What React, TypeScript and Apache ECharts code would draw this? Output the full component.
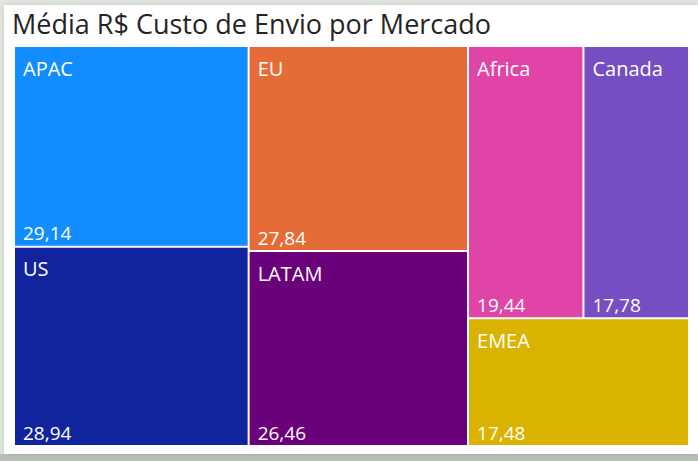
import React, { useEffect, useRef } from "react";
import * as echarts from "echarts";

const titleText = "Média R$ Custo de Envio por Mercado";
const markets = ["APAC", "US", "EU", "LATAM", "Africa", "Canada", "EMEA"];
const values = [29.14, 28.94, 27.84, 26.46, 19.44, 17.78, 17.48];
const colors = ["#118DFF", "#12239E", "#E66C37", "#6B007B", "#E044A7", "#744EC2", "#D9B300"];

const fmt = (v: number) => v.toFixed(2).replace(".", ",");

export default function App() {
  const ref = useRef<HTMLDivElement>(null);
  useEffect(() => {
    if (!ref.current) return;
    const chart = echarts.init(ref.current, undefined, { renderer: "svg" });
    const box = { left: 15, top: 47, width: 673, height: 398 };
    const fontFamily = "'Open Sans', sans-serif";
    const baseData = markets.map((m, i) => ({
      name: m,
      value: values[i],
      itemStyle: { color: colors[i] },
    }));
    const valueData = markets.map((m, i) => ({
      name: m,
      value: values[i],
      itemStyle: { color: "rgba(0,0,0,0)" },
    }));
    const common = {
      type: "treemap" as const,
      ...box,
      roam: false,
      nodeClick: false as const,
      breadcrumb: { show: false },
      silent: true,
      levels: [
        { itemStyle: { gapWidth: 2, borderWidth: 0, borderColor: "#ffffff" } },
      ],
    };
    chart.setOption({
      animation: false,
      backgroundColor: "#e2e9e1",
      graphic: [
        { type: "rect", shape: { x: 0, y: 454, width: 698, height: 7 }, style: { fill: "#b9c1b9" } },
        {
          type: "rect",
          shape: { x: 4, y: 5, width: 694, height: 449 },
          style: { fill: "#ffffff", shadowBlur: 6, shadowColor: "rgba(0,0,0,0.15)" },
        },
      ],
      title: {
        text: titleText,
        left: 7,
        top: 5,
        textStyle: { fontFamily, fontSize: 27, fontWeight: "normal", color: "#252423" },
      },
      series: [
        {
          ...common,
          data: baseData,
          label: {
            show: true,
            position: "insideTopLeft",
            formatter: "{b}",
            color: "#ffffff",
            fontFamily,
            fontSize: 20,
            padding: [11, 0, 0, 8],
          },
        },
        {
          ...common,
          data: valueData,
          label: {
            show: true,
            position: "insideBottomLeft",
            formatter: (p: any) => fmt(p.value),
            color: "#ffffff",
            fontFamily,
            fontSize: 19,
            padding: [0, 0, 3, 8],
          },
        },
      ],
    });
    return () => chart.dispose();
  }, []);
  return <div ref={ref} style={{ position: "fixed", left: 0, top: 0, width: 698, height: 461 }} />;
}
